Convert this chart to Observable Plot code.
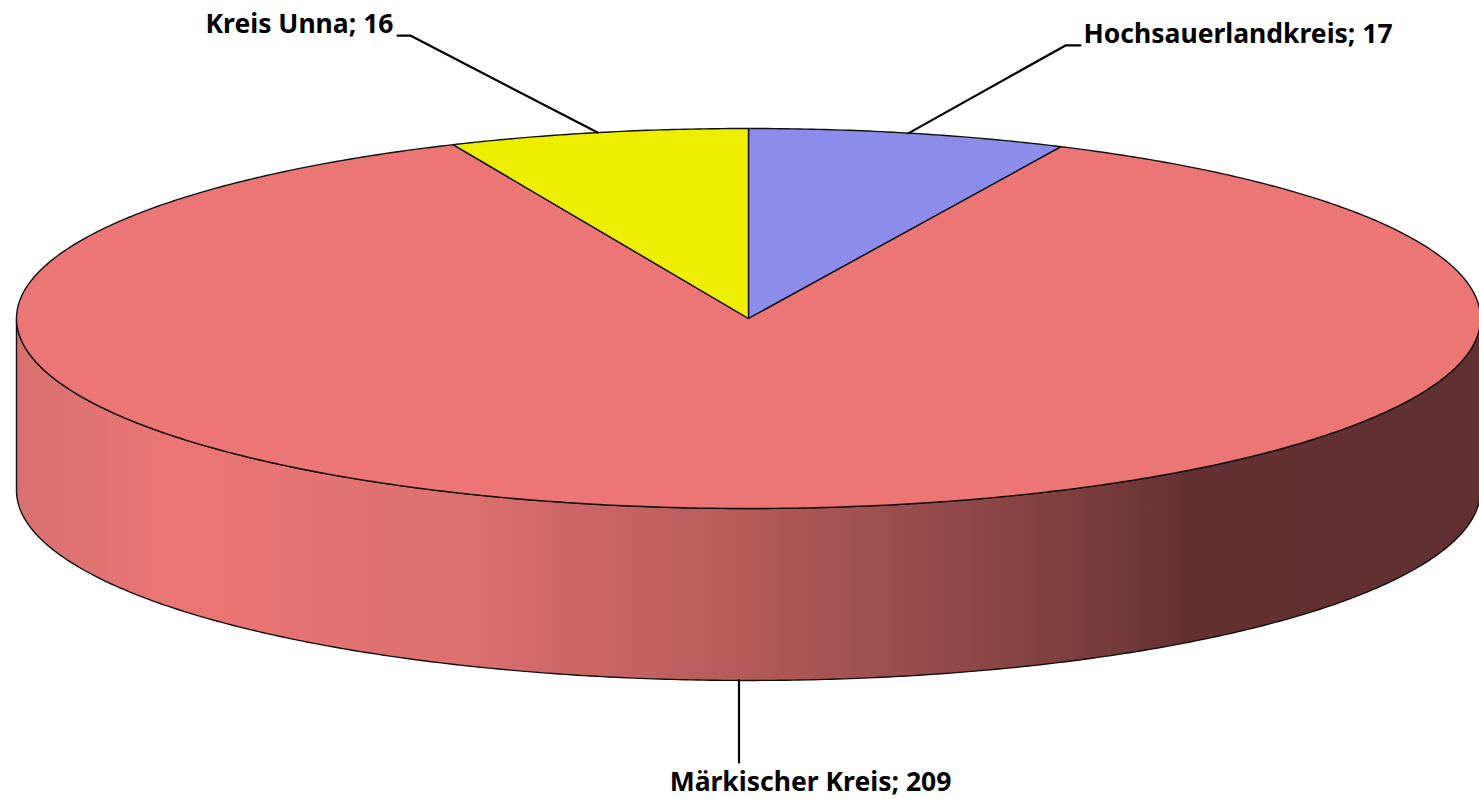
<!DOCTYPE html>
<html><head><meta charset="utf-8">
<script src="https://cdn.jsdelivr.net/npm/d3@7"></script>
<script src="https://cdn.jsdelivr.net/npm/@observablehq/plot@0.6"></script>
<style>html,body{margin:0;padding:0;background:#fff}svg{display:block}</style>
</head><body><div id="chart"></div>
<script>
// ---- data ----
const categories = ["Hochsauerlandkreis", "Märkischer Kreis", "Kreis Unna"];
const values = [17, 209, 16];
const colors = ["#8C8CEB", "#EC7575", "#EEEE00"];
const labelTexts = ["Hochsauerlandkreis; 17", "Märkischer Kreis; 209", "Kreis Unna; 16"];

// ---- layout (ellipse units: rx = ry = 1) ----
const DEPTH = 0.905;          // height of the pie side
const STEPS = 720;            // arc resolution for full circle
// label elbow/text positions in ellipse units
const labelLayout = [
  {elbow: [0.433, 1.437], end: [0.4536, 1.437], text: [0.4577, 1.447], anchor: "start"},
  {elbow: null, end: [-0.011, -2.337], text: [0.0847, -2.487], anchor: "middle"},
  {elbow: [-0.462, 1.489], end: [-0.4795, 1.489], text: [-0.485, 1.499], anchor: "end"}
];

const total = d3.sum(values);
let acc = 0;
const slices = categories.map((c, i) => {
  const a0 = acc / total * 2 * Math.PI; acc += values[i];
  const a1 = acc / total * 2 * Math.PI;
  return {c, a0, a1, color: colors[i], label: labelTexts[i], layout: labelLayout[i]};
});

const arc = (a0, a1, dy = 0) => {
  const n = Math.max(2, Math.ceil((a1 - a0) / (2 * Math.PI) * STEPS));
  return d3.range(n + 1).map(k => {
    const a = a0 + (a1 - a0) * k / n;
    return {x: Math.sin(a), y: Math.cos(a) + dy};
  });
};

// side (front half, visible)
const side = [...arc(Math.PI / 2, 3 * Math.PI / 2), ...arc(Math.PI / 2, 3 * Math.PI / 2, -DEPTH).reverse()];

const sliceMarks = slices.map(s => Plot.line([{x: 0, y: 0}, ...arc(s.a0, s.a1)], {
  x: "x", y: "y", curve: "linear-closed", fill: s.color, stroke: "#111", strokeWidth: 1.4
}));

// leader lines
const leaders = slices.map((s, i) => {
  const am = (s.a0 + s.a1) / 2;
  const L = s.layout;
  const onSide = Math.cos(am) < 0;
  const p0 = {x: Math.sin(am), y: Math.cos(am) - (onSide ? DEPTH : 0)};
  const pts = [p0];
  if (L.elbow) pts.push({x: L.elbow[0], y: L.elbow[1]});
  pts.push({x: onSide ? p0.x : L.end[0], y: L.end[1]});
  return Plot.line(pts, {x: "x", y: "y", stroke: "#000", strokeWidth: 2.2});
});

const textMark = anchor => Plot.text(slices.filter(s => s.layout.anchor === anchor), {
  x: s => s.layout.text[0], y: s => s.layout.text[1], text: "label",
  textAnchor: anchor, dy: -9, fontSize: 26.5, fontWeight: "bold",
  fontFamily: "'Noto Sans', 'Open Sans', sans-serif", fill: "#000"
});

const chart = Plot.plot({
  width: 1479, height: 799,
  margin: 0,
  x: {domain: [-1, 1], range: [16, 1480], axis: null},
  y: {domain: [-1, 1], range: [508, 128], axis: null},
  style: {background: "#fff", overflow: "visible"},
  marks: [
    Plot.line(side, {x: "x", y: "y", curve: "linear-closed", fill: "url(#sideGrad)", stroke: "#111", strokeWidth: 1.4}),
    ...sliceMarks,
    ...leaders,
    textMark("start"), textMark("middle"), textMark("end")
  ]
});

const defs = d3.select(chart).insert("defs", ":first-child");
const g = defs.append("linearGradient").attr("id", "sideGrad").attr("x1", 0).attr("x2", 1).attr("y1", 0).attr("y2", 0);
[[0, "#d87070"], [0.11, "#ec7575"], [0.3, "#dd7070"], [0.5, "#b55a5a"], [0.71, "#804040"], [0.8, "#643131"], [1, "#613030"]]
  .forEach(([o, c]) => g.append("stop").attr("offset", o).attr("stop-color", c));

document.getElementById("chart").append(chart);
</script>
</body></html>
